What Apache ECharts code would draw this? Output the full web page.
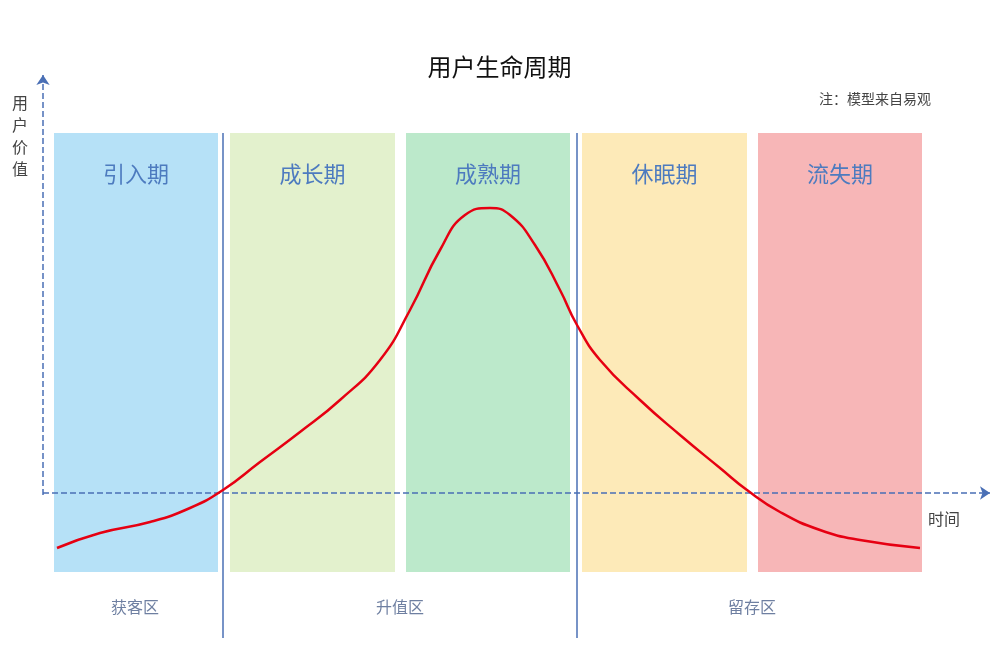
<!DOCTYPE html><html><head><meta charset="utf-8"><script src="https://cdn.jsdelivr.net/npm/echarts@6/dist/echarts.min.js"></script>
<style>html,body{margin:0;background:#fff}#c{width:999px;height:655px}</style></head><body><div id="c"></div><script>
const stages=['引入期','成长期','成熟期','休眠期','流失期'];
const stageRanges=[[54,218],[230,395],[406,570],[582,747],[758,922]];
const stageColors=['#b6e1f7','#e3f1cd','#bce9cb','#fdeab8','#f7b6b7'];
const zones=['获客区','升值区','留存区'];
const zoneCenters=[135,400,752];
const dividers=[223,577];
const curveX=[57,100,150,190,223,260,300,340,380,410,440,465,490,510,535,560,577,600,640,680,720,747,780,820,860,920];
const curveY=[-55,-40,-29,-15,3,31,61,93,133,183,243,278,285,278,248,203,168,133,93,58,25,3,-19,-37,-47,-55];
const F='"Noto Sans CJK SC",sans-serif';
const c=echarts.init(document.getElementById('c'));
c.setOption({
 animation:false,
 title:{text:'用户生命周期',left:'center',top:50,textStyle:{fontFamily:F,fontSize:24,fontWeight:'normal',color:'#111'}},
 grid:{left:0,right:0,top:0,bottom:0},
 xAxis:{type:'value',min:0,max:999,show:false},
 yAxis:{type:'value',min:-162,max:493,show:false},
 graphic:[
  {type:'text',right:68,top:92,style:{text:'注：模型来自易观',font:'14px '+F,fill:'#444'}},
  {type:'text',left:928,top:511,style:{text:'时间',font:'16px '+F,fill:'#444'}},
  {type:'text',left:12,top:92,style:{text:'用\n户\n价\n值',font:'16px '+F,fill:'#444',lineHeight:22}}
 ],
 series:[
  {type:'line',data:[],markArea:{silent:true,data:stageRanges.map((r,i)=>[{xAxis:r[0],yAxis:-79,itemStyle:{color:stageColors[i]},name:stages[i]},{xAxis:r[1],yAxis:360}]),
   label:{position:'insideTop',distance:30,fontFamily:F,fontSize:22,color:'#4d7bbf'}}},
  {type:'scatter',symbolSize:0,data:zoneCenters.map((x,i)=>({value:[x,-114],label:{show:true,formatter:zones[i],fontFamily:F,fontSize:16,color:'#4a5f8a'}}))},
  {type:'line',data:[],markLine:{silent:true,symbol:['none','none'],label:{show:false},lineStyle:{color:'#4a6fb5',type:'solid',width:1.5},
   data:dividers.map(x=>[{coord:[x,360]},{coord:[x,-145]}])}},
  {type:'line',data:[],markLine:{silent:true,symbol:['none','arrow'],symbolSize:10,label:{show:false},lineStyle:{color:'#4a6fb5',type:'dashed',width:1.5},
   data:[[{coord:[43,-2]},{coord:[43,418]}],[{coord:[43,0]},{coord:[990,0]}]]}},
  {type:'line',smooth:true,symbol:'none',data:curveX.map((x,i)=>[x,curveY[i]]),lineStyle:{color:'#e60012',width:2.5},z:5}
 ]
});
</script></body></html>
